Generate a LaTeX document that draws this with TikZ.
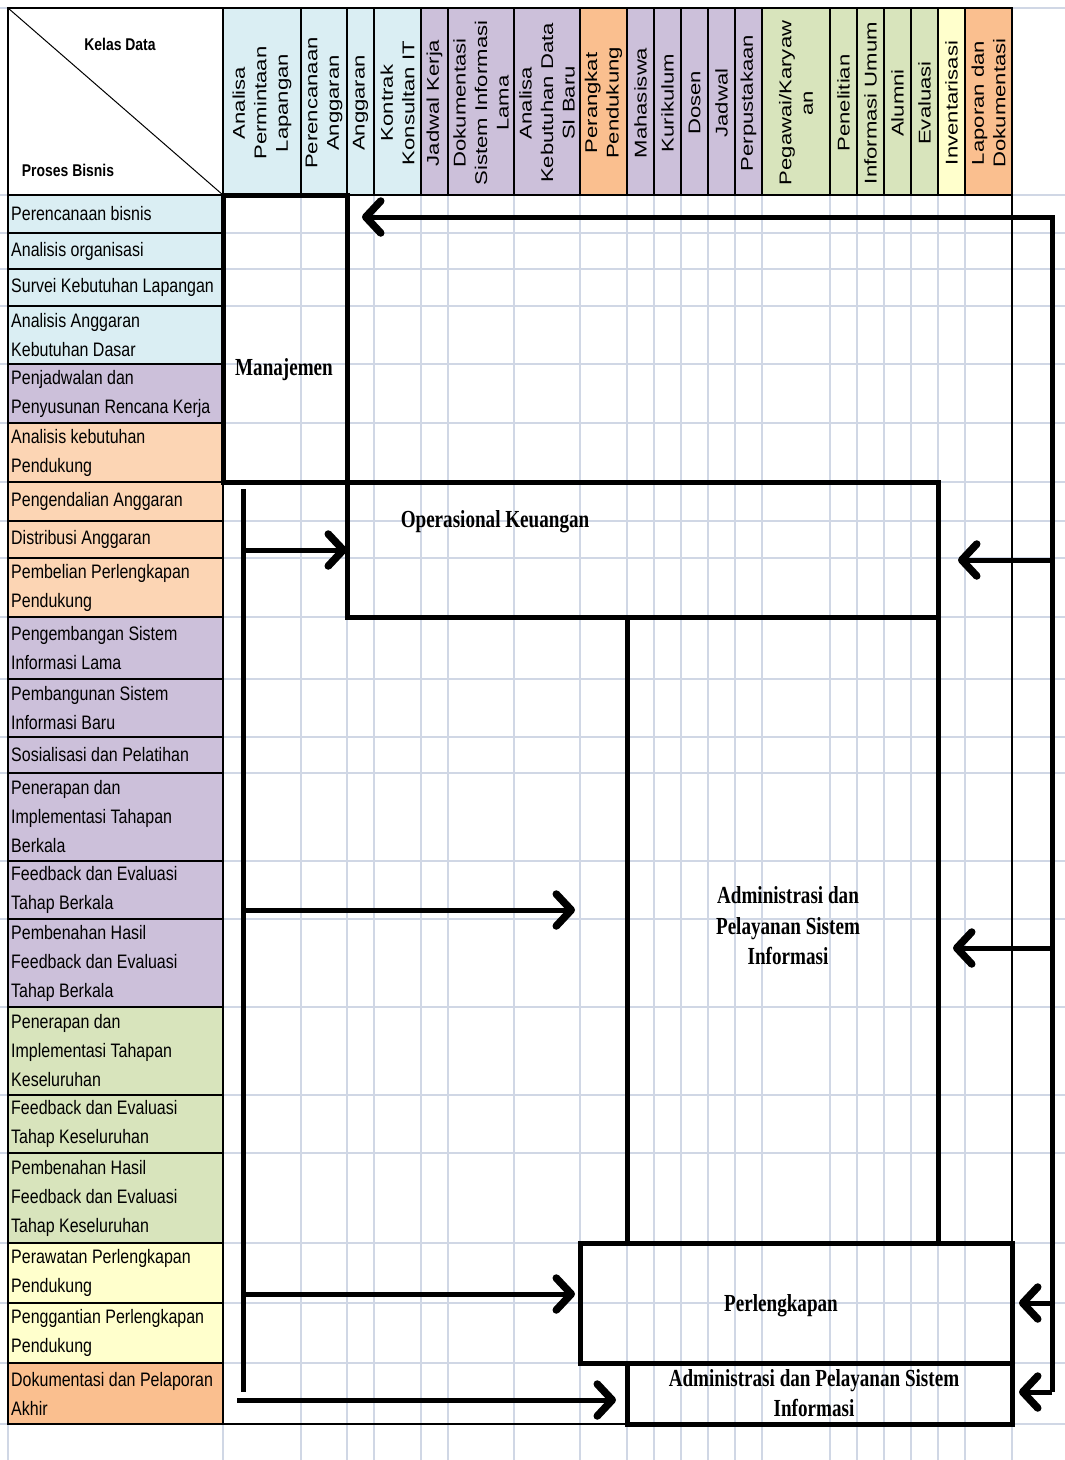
\documentclass[tikz,border=0pt]{standalone}
\usepackage{fontspec}
\usepackage{tikz}
\usetikzlibrary{arrows.meta}
\usetikzlibrary{calc}
\tikzset{>={Straight Barb[length=15pt,width=32pt,line width=7.5pt,round]}}
\newfontfamily\rowfont{Liberation Sans}[FakeStretch=0.82]
\newfontfamily\colfont{Liberation Sans}[FakeStretch=1.3]
\newfontfamily\grpfont{Liberation Serif}[FakeStretch=0.78]
\definecolor{biru}{RGB}{218,238,243}
\definecolor{ungu}{RGB}{204,192,218}
\definecolor{krem}{RGB}{252,213,180}
\definecolor{oranye}{RGB}{250,191,143}
\definecolor{hijau}{RGB}{216,228,188}
\definecolor{kuning}{RGB}{255,255,204}
\definecolor{kisi}{RGB}{208,215,229}

\begin{document}
\begin{tikzpicture}[x=1pt,y=-1pt,
  sel/.style={draw=black,line width=1.3pt},
  rowlbl/.style={anchor=west,align=left,inner sep=0pt,font=\rowfont\fontsize{19.5}{29}\selectfont},
  collbl/.style={rotate=90,align=center,inner sep=0pt,font=\colfont\fontsize{17}{21.5}\selectfont},
  judul/.style={inner sep=0pt,font=\rowfont\bfseries\fontsize{17}{20}\selectfont},
  grp/.style={draw=black,line width=5pt,inner sep=0pt,outer sep=0pt},
  grplbl/.style={align=center,inner sep=0pt,font=\grpfont\bfseries\fontsize{24.5}{30.5}\selectfont},
  garis/.style={line width=5pt},
  panah/.style={->,line width=5pt}]

	\useasboundingbox (0,0) rectangle (1065,1460);
	\fill[white] (0,0) rectangle (1065,1460);

	% kisi lembar kerja
	\foreach \x in {8,223,301,347,374,421,448,514,580,627,654,681,708,735,762,830,857,884,911,938,965,1012}
		\draw[kisi,line width=1.5pt] (\x,8) -- (\x,1460);
	\foreach \y in {8,195,233,269,306,364,423,482,521,558,617,679,737,773,861,919,1007,1095,1153,1243,1303,1363,1424}
		\draw[kisi,line width=1.5pt] (0,\y) -- (1065,\y);

	% pojok kiri atas
	\draw[sel] (8,8) rectangle (223,195);
	\draw[line width=1pt] (8,8) -- (223,195);
	\node[judul] (kelas) at (120,44) {Kelas Data};
	\node[judul] (proses) at (68,170) {Proses Bisnis};

	% kelas data
	\foreach \a/\b/\w/\t [count=\i] in {223/301/biru/{Analisa\\Permintaan\\Lapangan},
		301/347/biru/{Perencanaan\\Anggaran}, 347/374/biru/{Anggaran},
		374/421/biru/{Kontrak\\Konsultan IT}, 421/448/ungu/{Jadwal Kerja},
		448/514/ungu/{Dokumentasi\\Sistem Informasi\\Lama},
		514/580/ungu/{Analisa\\Kebutuhan Data\\SI Baru},
		580/627/oranye/{Perangkat\\Pendukung}, 627/654/ungu/{Mahasiswa},
		654/681/ungu/{Kurikulum}, 681/708/ungu/{Dosen}, 708/735/ungu/{Jadwal},
		735/762/ungu/{Perpustakaan}, 762/830/hijau/{Pegawai/Karyaw\\an},
		830/857/hijau/{Penelitian}, 857/884/hijau/{Informasi Umum},
		884/911/hijau/{Alumni}, 911/938/hijau/{Evaluasi},
		938/965/kuning/{Inventarisasi}, 965/1012/oranye/{Laporan dan\\Dokumentasi}}
	{
		\filldraw[fill=\w,sel] (\a,8) rectangle (\b,195);
		\node[collbl] (c\i) at ({(\a+\b)/2},103) {\t};
	}

	% proses bisnis
	\foreach \a/\b/\w/\t [count=\i] in {195/233/biru/{Perencanaan bisnis},
		233/269/biru/{Analisis organisasi}, 269/306/biru/{Survei Kebutuhan Lapangan},
		306/364/biru/{Analisis Anggaran\\Kebutuhan Dasar},
		364/423/ungu/{Penjadwalan dan\\Penyusunan Rencana Kerja},
		423/482/krem/{Analisis kebutuhan\\Pendukung},
		482/521/krem/{Pengendalian Anggaran}, 521/558/krem/{Distribusi Anggaran},
		558/617/krem/{Pembelian Perlengkapan\\Pendukung},
		617/679/ungu/{Pengembangan Sistem\\Informasi Lama},
		679/737/ungu/{Pembangunan Sistem\\Informasi Baru},
		737/773/ungu/{Sosialisasi dan Pelatihan},
		773/861/ungu/{Penerapan dan\\Implementasi Tahapan\\Berkala},
		861/919/ungu/{Feedback dan Evaluasi\\Tahap Berkala},
		919/1007/ungu/{Pembenahan Hasil\\Feedback dan Evaluasi\\Tahap Berkala},
		1007/1095/hijau/{Penerapan dan\\Implementasi Tahapan\\Keseluruhan},
		1095/1153/hijau/{Feedback dan Evaluasi\\Tahap Keseluruhan},
		1153/1243/hijau/{Pembenahan Hasil\\Feedback dan Evaluasi\\Tahap Keseluruhan},
		1243/1303/kuning/{Perawatan Perlengkapan\\Pendukung},
		1303/1363/kuning/{Penggantian Perlengkapan\\Pendukung},
		1363/1424/oranye/{Dokumentasi dan Pelaporan\\Akhir}}
	{
		\filldraw[fill=\w,sel] (8,\a) rectangle (223,\b);
		\node[rowlbl] (r\i) at (11,{(\a+\b)/2}) {\t};
	}
	\draw[sel] (223,195) rectangle (1012,1424);

	% kelompok proses
	\node[grp,minimum width=124pt,minimum height=287pt] (man) at (285,338.5) {};
	\node[grp,minimum width=591pt,minimum height=135pt] (ops) at (642.5,549.5) {};
	\node[grp,minimum width=311pt,minimum height=626pt] (adm) at (782.5,930) {};
	\node[grp,minimum width=432pt,minimum height=120pt] (perl) at (796,1303) {};
	\node[grp,minimum width=385pt,minimum height=61pt] (adm2) at (819.5,1393.5) {};

	\node[grplbl] (lman) at (284,370) {Manajemen};
	\node[grplbl] (lops) at (495,522) {Operasional Keuangan};
	\node[grplbl] (ladm) at (788,926) {Administrasi dan\\Pelayanan Sistem\\Informasi};
	\node[grplbl] (lperl) at (781,1306) {Perlengkapan};
	\node[grplbl] (ladm2) at (814,1393) {Administrasi dan Pelayanan Sistem\\Informasi};

	% alur kanan
	\coordinate (ka1) at (1052,217);
	\coordinate (ka2) at (1052,1392);
	\coordinate (kb) at (1052,560);
	\coordinate (kc) at (1052,948);
	\coordinate (kd) at (1052,1303);
	\draw[panah,shorten >=15pt] (ka2) -- (ka1) -- (ka1 -| man.east);
	\draw[panah,shorten >=20pt] (kb) -- (kb -| ops.east);
	\draw[panah,shorten >=15pt] (kc) -- (kc -| adm.east);
	\draw[panah,shorten >=7pt] (kd) -- (kd -| perl.east);
	\draw[panah,shorten >=7pt] (ka2) -- (ka2 -| adm2.east);

	% alur kiri
	\coordinate (ki1) at (243,489);
	\coordinate (ki2) at (243,1392);
	\coordinate (kj1) at (243,550);
	\coordinate (kj2) at (243,910);
	\coordinate (kj3) at (243,1294);
	\coordinate (kj4) at (237,1400);
	\draw[garis] (ki1) -- (ki2);
	\draw[panah] (kj1) -- (kj1 -| ops.west);
	\draw[panah,shorten >=5pt] (kj2) -- (kj2 -| perl.west);
	\draw[panah,shorten >=5pt] (kj3) -- (kj3 -| perl.west);
	\draw[panah,shorten >=11pt] (kj4) -- (kj4 -| adm2.west);
\end{tikzpicture}
\end{document}
